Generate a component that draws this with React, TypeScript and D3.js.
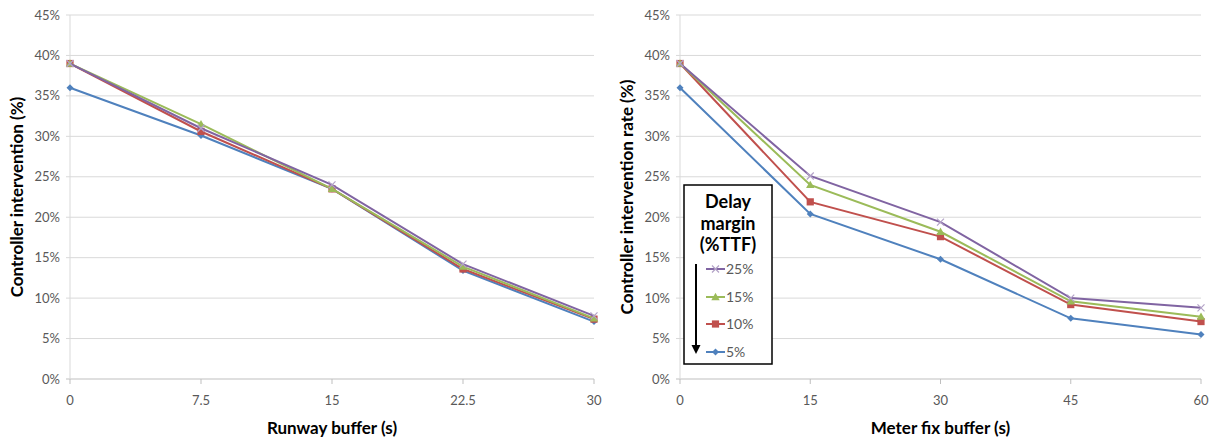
import React from "react";
import * as d3 from "d3";

const runwayBuffer = [0, 7.5, 15, 22.5, 30];
const meterBuffer = [0, 15, 30, 45, 60];
const seriesNames = ["25%", "15%", "10%", "5%"];
const seriesColors = ["#8064A2", "#9BBB59", "#C0504D", "#4F81BD"];
const seriesMarkers = ["x", "triangle", "square", "diamond"];

// left chart values (%)
const left25 = [39.0, 31.0, 24.0, 14.2, 7.8];
const left15 = [39.0, 31.5, 23.5, 13.9, 7.5];
const left10 = [39.0, 30.6, 23.5, 13.6, 7.4];
const left5 = [36.0, 30.1, 23.5, 13.4, 7.1];

// right chart values (%)
const right25 = [39.0, 25.1, 19.4, 10.0, 8.8];
const right15 = [39.0, 24.0, 18.2, 9.6, 7.7];
const right10 = [39.0, 21.9, 17.6, 9.2, 7.1];
const right5 = [36.0, 20.4, 14.8, 7.5, 5.5];

const yTicks = [0, 5, 10, 15, 20, 25, 30, 35, 40, 45];

const FONT = "Lato, 'Open Sans', sans-serif";

function Marker({ type, x, y, color }: { type: string; x: number; y: number; color: string }) {
  if (type === "diamond") {
    const s = 3.5;
    return <path d={`M${x},${y - s}L${x + s},${y}L${x},${y + s}L${x - s},${y}Z`} fill={color} />;
  }
  if (type === "square") {
    const s = 3.6;
    return <rect x={x - s} y={y - s} width={2 * s} height={2 * s} fill={color} />;
  }
  if (type === "triangle") {
    const s = 4.2;
    return <path d={`M${x},${y - s}L${x + s},${y + s * 0.75}L${x - s},${y + s * 0.75}Z`} fill={color} />;
  }
  const s = 3.5;
  return (
    <path
      d={`M${x - s},${y - s}L${x + s},${y + s}M${x - s},${y + s}L${x + s},${y - s}`}
      stroke="#B3A2C7"
      strokeWidth={1.2}
      fill="none"
    />
  );
}

function Panel({
  x0, x1, xs, series, xLabel, yLabel, yLabelX, xFmt,
}: {
  x0: number; x1: number; xs: number[]; series: number[][]; xLabel: string; yLabel: string; yLabelX: number; xFmt: (v: number) => string;
}) {
  const top = 15;
  const bottom = 379;
  const x = d3.scaleLinear().domain([xs[0], xs[xs.length - 1]]).range([x0, x1]);
  const y = d3.scaleLinear().domain([0, 45]).range([bottom, top]);
  const line = d3.line<number>().x((_, i) => x(xs[i])).y((v) => y(v));
  return (
    <g>
      {yTicks.map((t) => (
        <g key={t}>
          <line x1={x0 - 4} x2={x1} y1={y(t)} y2={y(t)} stroke={t === 0 ? "#BFBFBF" : "#D9D9D9"} strokeWidth={1} />
          <text x={x0 - 10} y={y(t)} dy="0.35em" textAnchor="end" fontSize={13} fill="#595959" fontFamily={FONT}>
            {t}%
          </text>
        </g>
      ))}
      <line x1={x0} x2={x0} y1={top} y2={bottom} stroke="#D9D9D9" />
      {xs.map((v) => (
        <g key={v}>
          <line x1={x(v)} x2={x(v)} y1={bottom} y2={bottom + 5} stroke="#BFBFBF" />
          <text x={x(v)} y={bottom + 21} dy="0.35em" textAnchor="middle" fontSize={13} fill="#595959" fontFamily={FONT}>
            {xFmt(v)}
          </text>
        </g>
      ))}
      {[3, 2, 1, 0].map((si) => (
        <g key={si}>
          <path d={line(series[si]) || ""} fill="none" stroke={seriesColors[si]} strokeWidth={2} />
          {series[si].map((v, i) => (
            <Marker key={i} type={seriesMarkers[si]} x={x(xs[i])} y={y(v)} color={seriesColors[si]} />
          ))}
        </g>
      ))}
      <text x={(x0 + x1) / 2} y={428} dy="0.35em" textAnchor="middle" fontSize={17} fontWeight="bold" fill="#000" fontFamily={FONT}>
        {xLabel}
      </text>
      <text
        transform={`translate(${yLabelX},${(top + bottom) / 2}) rotate(-90)`}
        dy="0.35em"
        textAnchor="middle"
        fontSize={17}
        fontWeight="bold"
        fill="#000"
        fontFamily={FONT}
      >
        {yLabel}
      </text>
    </g>
  );
}

export default function App() {
  const legendX = 684;
  const legendY = 185;
  const entryY = [269, 297, 324, 352];
  return (
    <svg width={1209} height={438} style={{ position: "absolute", left: 0, top: 0, background: "#fff" }}>
      <rect width={1209} height={438} fill="#fff" />
      <Panel
        x0={70}
        x1={594}
        xs={runwayBuffer}
        series={[left25, left15, left10, left5]}
        xLabel="Runway buffer (s)"
        yLabel="Controller intervention (%)"
        yLabelX={17}
        xFmt={(v) => String(v)}
      />
      <Panel
        x0={680}
        x1={1201}
        xs={meterBuffer}
        series={[right25, right15, right10, right5]}
        xLabel="Meter fix buffer (s)"
        yLabel="Controller intervention rate (%)"
        yLabelX={627}
        xFmt={(v) => String(v)}
      />
      <g>
        <rect x={legendX} y={legendY} width={88} height={179} fill="#fff" stroke="#000" strokeWidth={1.5} />
        {["Delay", "margin", "(%TTF)"].map((t, i) => (
          <text key={t} x={728} y={202 + i * 21.5} dy="0.35em" textAnchor="middle" fontSize={18} fontWeight="bold" fontFamily={FONT} fill="#000">
            {t}
          </text>
        ))}
        <line x1={696} x2={696} y1={264} y2={346} stroke="#000" strokeWidth={2} />
        <path d="M691.5,345L700.5,345L696,354Z" fill="#000" />
        {seriesNames.map((n, i) => (
          <g key={n}>
            <line x1={706} x2={725} y1={entryY[i]} y2={entryY[i]} stroke={seriesColors[i]} strokeWidth={2} />
            <Marker type={seriesMarkers[i]} x={715.5} y={entryY[i]} color={seriesColors[i]} />
            <text x={726} y={entryY[i]} dy="0.35em" fontSize={14} fill="#595959" fontFamily={FONT}>
              {n}
            </text>
          </g>
        ))}
      </g>
    </svg>
  );
}
